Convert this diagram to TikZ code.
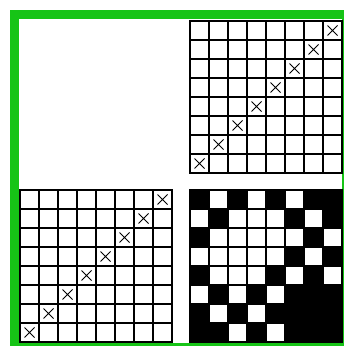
\documentclass[tikz,border=0pt]{standalone}
\usepackage{tikz}
\definecolor{framegreen}{RGB}{22,196,22}
\begin{document}
\begin{tikzpicture}[x=1pt,y=1pt,
    gridline/.style={line width=2pt, black, line cap=rect},
    crossmark/.style={line width=0.9pt, black},
    cellwhite/.style={fill=white}
  ]
  \useasboundingbox (0,0) rectangle (344,346);
  % green frame
  \fill[framegreen] (10,0) rectangle (344,336);
  \fill[white] (19,3) rectangle (341.5,327);
  % top right grid
  \begin{scope}[shift={(190,173)}]
    \foreach \i in {0,...,8} {
      \draw[gridline] (\i*19,0) -- (\i*19,152);
      \draw[gridline] (0,\i*19) -- (152,\i*19);
    }
    \foreach \i in {0,...,7}
      \draw[crossmark] (\i*19+4.5,\i*19+4.5) -- ++(10,10)
        (\i*19+4.5,\i*19+14.5) -- ++(10,-10);
  \end{scope}
  % bottom left grid
  \begin{scope}[shift={(20,4)}]
    \foreach \i in {0,...,8} {
      \draw[gridline] (\i*19,0) -- (\i*19,152);
      \draw[gridline] (0,\i*19) -- (152,\i*19);
    }
    \foreach \i in {0,...,7}
      \draw[crossmark] (\i*19+4.5,\i*19+4.5) -- ++(10,10)
        (\i*19+4.5,\i*19+14.5) -- ++(10,-10);
  \end{scope}
  % bottom right pattern
  \begin{scope}[shift={(190,4)}]
    \fill[black] (-1,-1) rectangle (153,153);
    \foreach \r/\cols in {1/{2,4,6}, 2/{1,3,4,5,7}, 3/{2,3,4,5,6,8},
        4/{1,2,3,4,5,7}, 5/{2,3,4,6,8}, 6/{1,3,5}, 7/{2,4}, 8/{3,5}}
      \foreach \c in \cols
        \fill[cellwhite] ({(\c-1)*19+1.1},{(8-\r)*19+1.1}) rectangle ++(16.8,16.8);
  \end{scope}
\end{tikzpicture}
\end{document}
